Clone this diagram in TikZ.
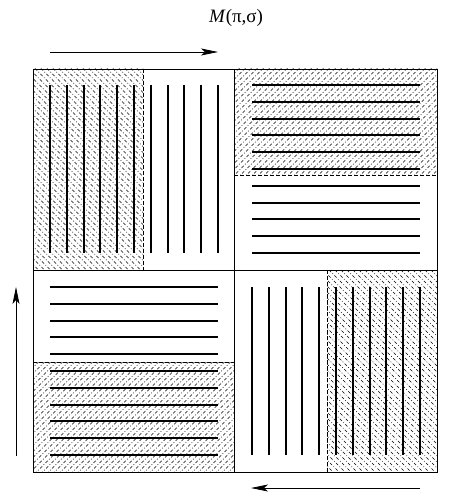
\documentclass[tikz,border=0pt]{standalone}
\usepackage{fontspec}
\setmainfont{Liberation Serif}
\usepackage{tikz}
\usetikzlibrary{arrows.meta}

\begin{document}
\begin{tikzpicture}[x=1bp, y=-1bp,
    bar/.style={line width=1.6bp},
    hatch/.style={line width=0.6bp, dash pattern=on 3bp off 2bp on 0.8bp off 2bp},
    edge/.style={line width=0.7bp, dash pattern=on 4bp off 2bp},
    flow/.style={line width=0.8bp, -{Stealth[length=17bp, width=7bp, inset=4bp]}}]
    \useasboundingbox (0,0) rectangle (449,496);
    % Hatched parts
    \foreach \xa/\ya/\xb/\yb/\d in {33/69/143/270/1, 327/270/437/472/1, 234/69/437/175/-1, 33/362/234/472/-1} {
        \begin{scope}
            \clip (\xa,\ya) rectangle (\xb,\yb);
            \foreach \s in {-300,-294,...,300}
                \draw[hatch] (\xa/2+\xb/2+\s-250, \ya/2+\yb/2-250*\d) -- ++(500,500*\d);
        \end{scope}
    }
    \draw[edge] (143,69) -- (143,270);
    \draw[edge] (327,270) -- (327,472);
    \draw[edge] (234,175) -- (437,175);
    \draw[edge] (33,362) -- (234,362);
    % Frame
    \draw[line width=0.8bp] (33,69) rectangle (437,472);
    \draw[line width=0.8bp] (234,69) -- (234,472);
    \draw[line width=0.8bp] (33,270) -- (437,270);
    % Strips
    \foreach \i in {0,...,10} {
        \pgfmathtruncatemacro{\k}{round(16.8*\i)}
        \draw[bar] (50+\k,85) -- ++(0,168);
        \draw[bar] (252+\k,287) -- ++(0,168);
        \draw[bar] (252,85+\k) -- ++(168,0);
        \draw[bar] (50,287+\k) -- ++(168,0);
    }
    % Arrows
    \coordinate (topL) at (50,52);
    \coordinate (topR) at (218,52);
    \coordinate (leftB) at (16,456);
    \coordinate (leftT) at (16,287);
    \coordinate (botR) at (420,488);
    \coordinate (botL) at (251,488);
    \draw[flow] (topL) -- (topR);
    \draw[flow] (leftB) -- (leftT);
    \draw[flow] (botR) -- (botL);
    % Label
    \node (perm) at (236,18) {\fontsize{19}{22}\selectfont\textit{M}(π,σ)};
\end{tikzpicture}
\end{document}
